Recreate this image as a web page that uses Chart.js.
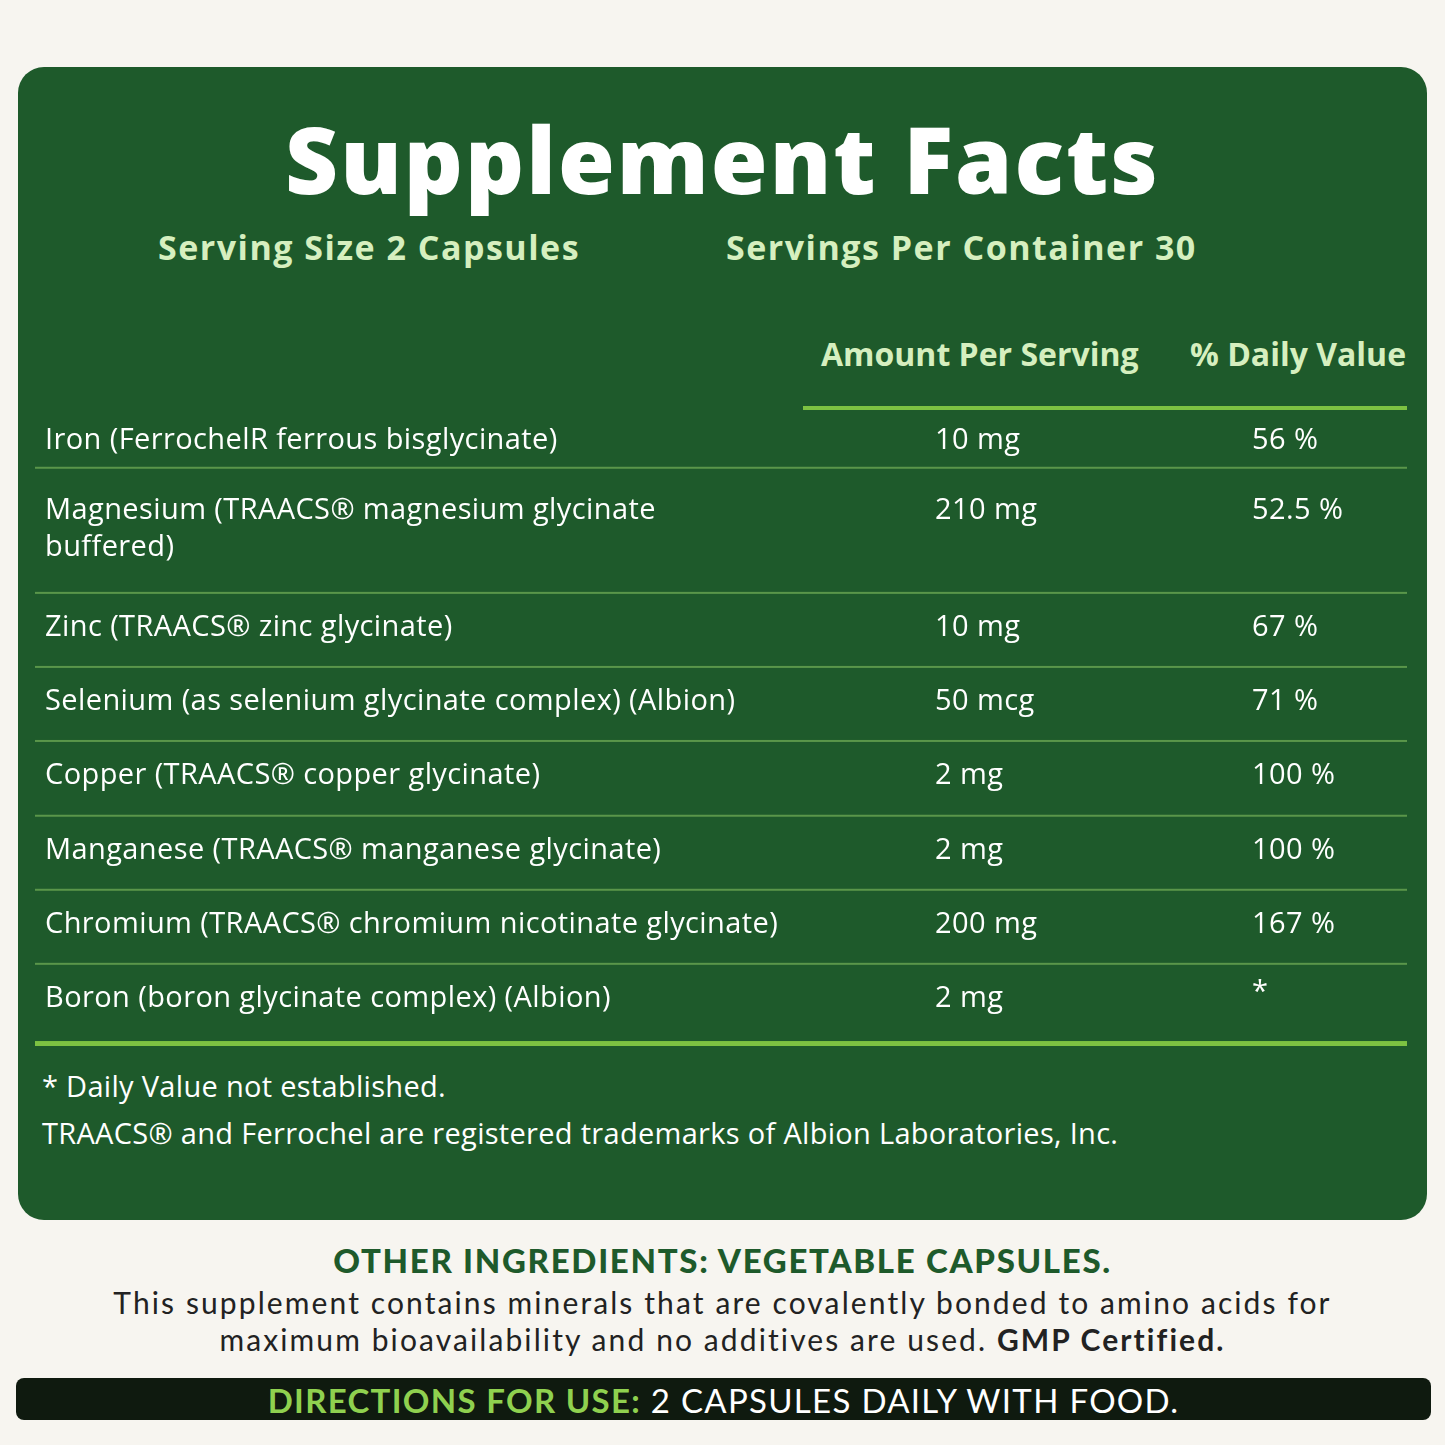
<!DOCTYPE html>
<html><head><meta charset="utf-8">
<script src="https://cdn.jsdelivr.net/npm/chart.js@4/dist/chart.umd.min.js"></script>
<style>
body{margin:0;width:1445px;height:1445px;background:#f7f5f0;position:relative;overflow:hidden;font-family:Lato,"Open Sans",sans-serif}
#panel{position:absolute;left:18px;top:67px;width:1409px;height:1153px;background:#1e5a2b;border-radius:26px}
.t{position:absolute;white-space:nowrap}
#title{left:0;width:1445px;text-align:center;top:96px;font:800 92px "Open Sans",sans-serif;color:#fff;letter-spacing:2px}
.sub{font:700 34px "Open Sans",sans-serif;color:#d6efbf;top:224px;letter-spacing:1.5px}
.hd{font:700 32px "Open Sans",sans-serif;color:#d6efbf;top:332px}
#hline{position:absolute;left:803px;top:406px;width:604px;height:4px;background:#7dc242}
#cv{position:absolute;left:35px;top:410px;width:1372px;height:636px}
.fn{font:400 29px "Open Sans",sans-serif;color:#fff;left:42px;letter-spacing:.3px}
#oth{left:0;width:1445px;text-align:center;top:1240px;font:900 33px Lato,sans-serif;color:#1e5a2b;letter-spacing:1.7px}
.p{left:0;width:1445px;text-align:center;font:400 30px Lato,sans-serif;color:#222;letter-spacing:2.1px}
#bar{position:absolute;left:16px;top:1378px;width:1415px;height:42px;background:#0f1a0f;border-radius:8px;text-align:center;font:400 33px Lato,sans-serif;color:#fff;line-height:44px;letter-spacing:1.3px}
</style></head><body>
<div id="panel"></div>
<div class="t" id="title">Supplement Facts</div>
<div class="t sub" style="left:158px">Serving Size 2 Capsules</div>
<div class="t sub" style="left:726px">Servings Per Container 30</div>
<div class="t hd" style="left:821px">Amount Per Serving</div>
<div class="t hd" style="left:1190px">% Daily Value</div>
<div id="hline"></div>
<canvas id="cv" width="1372" height="636"></canvas>
<div class="t fn" style="top:1066px">* Daily Value not established.</div>
<div class="t fn" style="top:1113px">TRAACS® and Ferrochel are registered trademarks of Albion Laboratories, Inc.</div>
<div class="t" id="oth">OTHER INGREDIENTS: VEGETABLE CAPSULES.</div>
<div class="t p" style="top:1284px">This supplement contains minerals that are covalently bonded to amino acids for</div>
<div class="t p" style="top:1321px">maximum bioavailability and no additives are used. <b>GMP Certified.</b></div>
<div id="bar"><b style="color:#8fd14f">DIRECTIONS FOR USE:</b> 2 CAPSULES DAILY WITH FOOD.</div>
<script>
const ingredients=[["Iron (FerrochelR ferrous bisglycinate)"],["Magnesium (TRAACS® magnesium glycinate","buffered)"],["Zinc (TRAACS® zinc glycinate)"],["Selenium (as selenium glycinate complex) (Albion)"],["Copper (TRAACS® copper glycinate)"],["Manganese (TRAACS® manganese glycinate)"],["Chromium (TRAACS® chromium nicotinate glycinate)"],["Boron (boron glycinate complex) (Albion)"]];
const amounts=["10 mg","210 mg","10 mg","50 mcg","2 mg","2 mg","200 mg","2 mg"];
const dailyValues=["56 %","52.5 %","67 %","71 %","100 %","100 %","167 %","*"];
const rowWeights=[0.78,1.69,1,1,1.01,1,1,1.07];
const starts=[];let acc=0;rowWeights.forEach(w=>{starts.push(acc);acc+=w;});
const tablePlugin={id:'tbl',afterDraw(c){
 const ctx=c.ctx,y=c.scales.y,W=c.width;ctx.save();
 ctx.font='400 29px "Open Sans", sans-serif';ctx.letterSpacing='0.4px';ctx.fillStyle='#fff';ctx.textBaseline='middle';
 ingredients.forEach((lines,i)=>{
  const top=y.getPixelForValue(starts[i]),bot=y.getPixelForValue(starts[i]+rowWeights[i]);
  const c0=top+(i==0?31:(lines.length>1?43:35));
  lines.forEach((l,k)=>ctx.fillText(l,10,c0+k*37));
  ctx.fillText(amounts[i],900,c0);
  ctx.fillText(dailyValues[i],1217,dailyValues[i]=='*'?c0-6:c0);
  if(i<ingredients.length-1){ctx.fillStyle='rgba(140,200,100,0.55)';ctx.fillRect(0,bot-1,W,2);ctx.fillStyle='#fff';}
 });
 ctx.fillStyle='#7dc242';ctx.fillRect(0,y.getPixelForValue(acc)-2,W,5);
 ctx.restore();}};
new Chart(document.getElementById('cv'),{type:'bar',
 data:{labels:ingredients.map(l=>l.join(' ')),datasets:[{data:starts.map(s=>s),backgroundColor:'transparent'}]},
 options:{responsive:false,animation:false,indexAxis:'x',layout:{padding:0},
  plugins:{legend:{display:false},tooltip:{enabled:false}},
  scales:{x:{display:false},y:{type:'linear',display:false,reverse:true,min:0,max:acc+0.04}}},
 plugins:[tablePlugin]});
</script></body></html>
